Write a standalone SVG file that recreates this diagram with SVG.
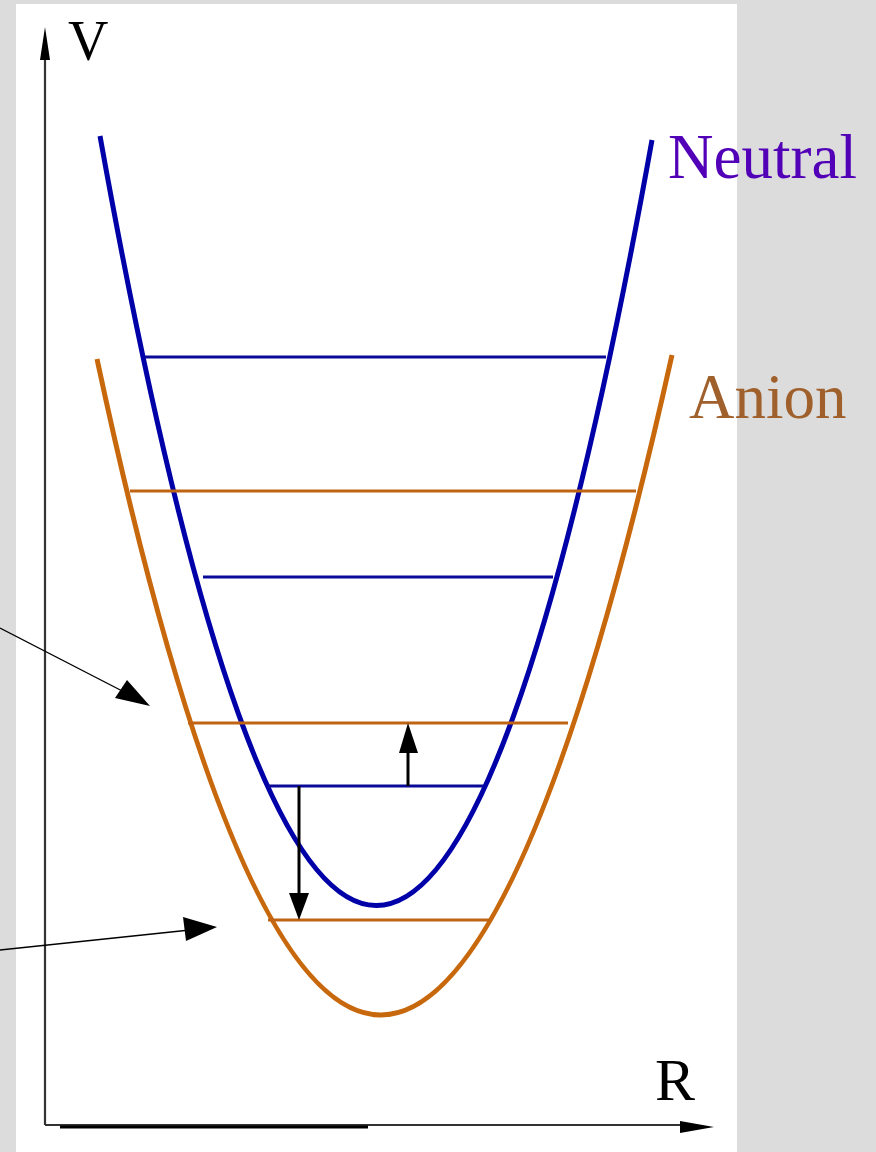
<svg xmlns="http://www.w3.org/2000/svg" width="876" height="1152" viewBox="0 0 876 1152">
<style>
.ax{stroke:#333;stroke-width:2.2;fill:none}
.neu{stroke:#0000a8;stroke-width:5;fill:none}
.ani{stroke:#c8680c;stroke-width:5;fill:none}
.lvn{stroke:#0a0a98;stroke-width:3}
.lva{stroke:#c06414;stroke-width:3}
.blk{stroke:#000;stroke-width:3}
.ptr{stroke:#000;stroke-width:1.3}
.lbl{font-family:"Liberation Serif","Times New Roman",serif}
</style>
<rect width="876" height="1152" fill="#dcdcdc"/>
<rect x="16" y="4" width="721" height="1148" fill="#fff"/>
<g id="axes">
<line class="ax" x1="45" y1="1125" x2="45" y2="50"/>
<polygon points="45,27 40,60 50,60" fill="#000"/>
<line class="ax" x1="45" y1="1125" x2="690" y2="1125"/>
<line x1="60" y1="1127" x2="368" y2="1127" stroke="#000" stroke-width="3"/>
<polygon points="714,1127 680,1121 680,1133" fill="#000"/>
<text class="lbl" x="68" y="60" font-size="56">V</text>
<text class="lbl" x="655" y="1100" font-size="60">R</text>
</g>
<g id="neutral">
<path class="neu" d="M100,136 Q376,1673 652,140"/>
<line class="lvn" x1="145" y1="357" x2="606" y2="357"/>
<line class="lvn" x1="203" y1="577" x2="553" y2="577"/>
<line class="lvn" x1="268" y1="786" x2="483" y2="786"/>
<text class="lbl" x="668" y="178" font-size="63" fill="#5200b8">Neutral</text>
</g>
<g id="anion">
<path class="ani" d="M97,359 Q378,1673 672,355"/>
<line class="lva" x1="130" y1="491" x2="636" y2="491"/>
<line class="lva" x1="188" y1="723" x2="568" y2="723"/>
<line class="lva" x1="268" y1="920" x2="490" y2="920"/>
<text class="lbl" x="689" y="418" font-size="63" fill="#a0602c">Anion</text>
</g>
<g id="connectors">
<line class="blk" x1="408" y1="786" x2="408" y2="748"/>
<polygon points="408,723 399,753 418,753" fill="#000"/>
<line class="blk" x1="299" y1="786" x2="299" y2="896"/>
<polygon points="299,920 289,893 309,893" fill="#000"/>
<line class="ptr" x1="0" y1="628" x2="130" y2="695"/>
<polygon points="150,706 127,680 115,698" fill="#000"/>
<line class="ptr" x1="0" y1="950" x2="190" y2="930"/>
<polygon points="217,927 183,917 186,941" fill="#000"/>
</g>
</svg>
